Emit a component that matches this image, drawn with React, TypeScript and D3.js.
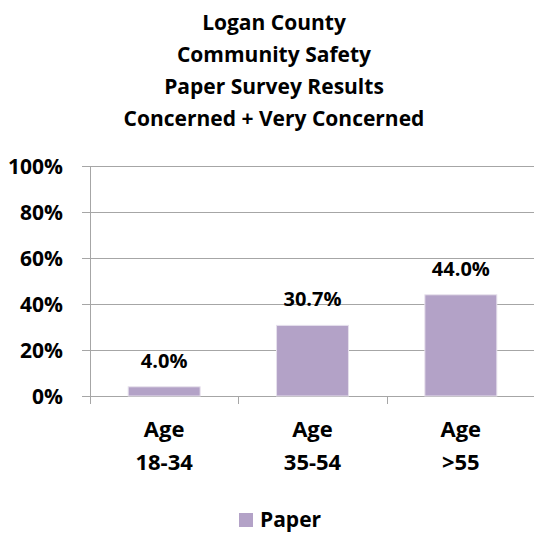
import React from "react";
import * as d3 from "d3";

const titleLines = ["Logan County", "Community Safety", "Paper Survey Results", "Concerned + Very Concerned"];
const categories = ["Age\n18-34", "Age\n35-54", "Age\n>55"];
const values = [0.04, 0.307, 0.44];
const valueLabels = ["4.0%", "30.7%", "44.0%"];
const yTicks = [0, 0.2, 0.4, 0.6, 0.8, 1.0];
const seriesName = "Paper";

const W = 534, H = 533;
const FONT = "'Open Sans', sans-serif";
const BAR = "#B3A2C7";
const GRID = "#A6A6A6";

export default function App() {
  const left = 90, right = 535, top = 166, bottom = 396;
  const x = d3.scaleBand<string>().domain(categories).range([left, right]).paddingInner(0.515).paddingOuter(0.2575);
  const y = d3.scaleLinear().domain([0, 1]).range([bottom, top]);
  const step = x.step();
  return (
    <svg width={W} height={H} style={{ position: "absolute", left: 0, top: 0, background: "#fff" }} fontFamily={FONT} fontWeight="bold">
      {titleLines.map((t, i) => (
        <text key={t} x={274} y={30 + i * 32} textAnchor="middle" fontSize={21} fill="#000">{t}</text>
      ))}
      {yTicks.map((t) => (
        <g key={t}>
          <line x1={left - 8} x2={right} y1={Math.round(y(t)) + 0.5} y2={Math.round(y(t)) + 0.5} stroke={GRID} strokeWidth={1} />
          <text x={63} y={y(t) + 7.5} textAnchor="end" fontSize={21} fill="#000">{d3.format(".0%")(t)}</text>
        </g>
      ))}
      <line x1={left + 0.5} x2={left + 0.5} y1={top} y2={bottom + 8} stroke={GRID} />
      {categories.map((c, i) => {
        const x0 = left + step * (i + 1);
        return <line key={"t" + i} x1={Math.round(x0) + 0.5} x2={Math.round(x0) + 0.5} y1={bottom} y2={bottom + 8} stroke={GRID} />;
      })}
      {categories.map((c, i) => {
        const bx = x(c)!;
        const bw = x.bandwidth();
        return (
          <g key={c}>
            <rect x={bx} y={y(values[i])} width={bw} height={bottom - y(values[i])} fill={BAR} stroke="#E6E0EC" strokeWidth={1} />
            <text x={bx + bw / 2} y={y(values[i]) - 19} textAnchor="middle" fontSize={20} fill="#000">{valueLabels[i]}</text>
            {c.split("\n").map((line, j) => (
              <text key={j} x={bx + bw / 2} y={437 + j * 33} textAnchor="middle" fontSize={22} fill="#000">{line}</text>
            ))}
          </g>
        );
      })}
      <rect x={239} y={513} width={14} height={14} fill={BAR} />
      <text x={260} y={527} fontSize={21} fill="#000">{seriesName}</text>
    </svg>
  );
}
